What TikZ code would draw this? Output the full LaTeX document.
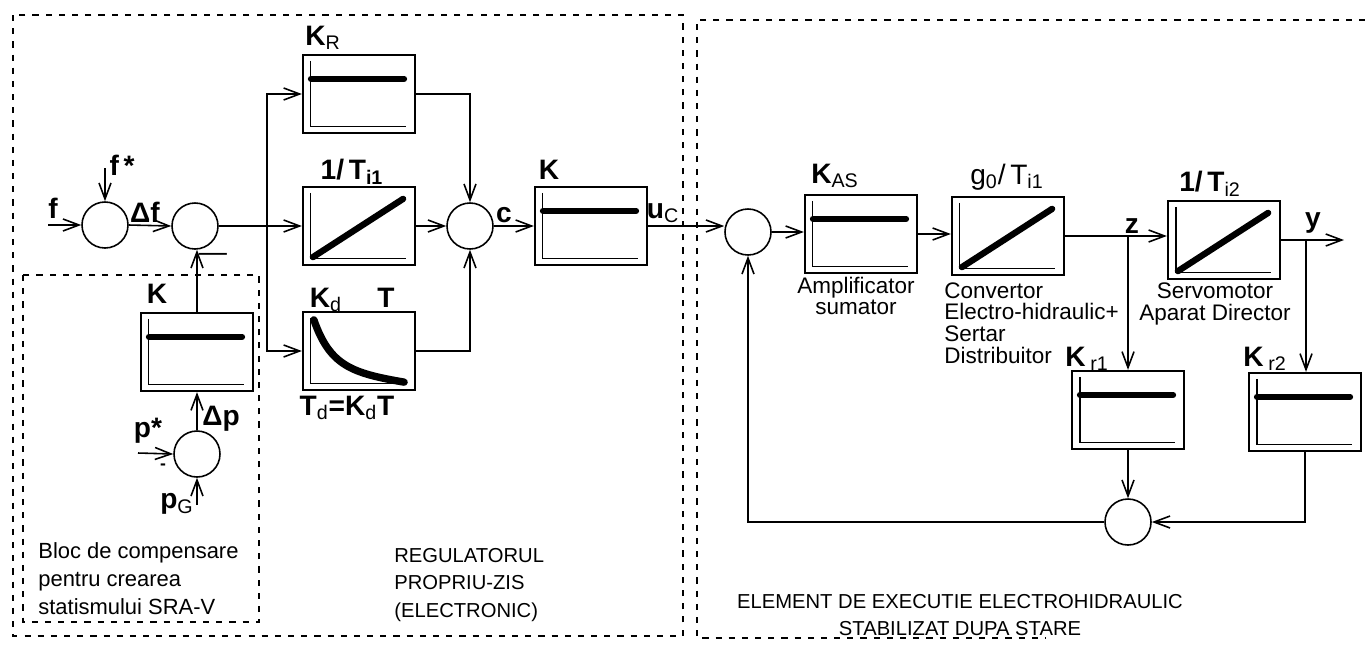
\documentclass[tikz,border=0pt]{standalone}
\usepackage{fontspec}
\setmainfont{Liberation Sans}
\usetikzlibrary{arrows.meta,calc}
\newcommand{\lsub}[1]{\textsubscript{\mdseries #1}}

\begin{document}
\begin{tikzpicture}[x=0.02cm, y=-0.02cm,
    >={Straight Barb[length=3.2mm,width=2.4mm]},
    sum/.style={circle, draw, line width=0.9pt, minimum size=9.2mm, inner sep=0pt},
    blk/.style={draw, line width=1.3pt, minimum width=2.24cm, minimum height=1.56cm, inner sep=0pt},
    lbl/.style={font=\fontsize{16}{18}\selectfont\bfseries, inner sep=1pt},
    txt/.style={font=\fontsize{12.8}{12.3}\selectfont, align=left, inner sep=0pt},
    captxt/.style={font=\fontsize{11.5}{15.4}\selectfont, align=left, inner sep=0pt},
    grp/.style={dash pattern=on 3.5pt off 4pt, line width=0.8pt},
    sig/.style={line width=0.9pt}]
    \useasboundingbox (0,0) rectangle (1365,647);

    % dashed groups
    \draw[grp] (13,15) rectangle (683,636);
    \draw[grp] (23,275) rectangle (259,622);
    \draw[grp] (1365,20) -- (697,20) -- (697,638) -- (1045,638);

    % summing points
    \node[sum] (s1) at (105,225) {};
    \node[sum] (s2) at (195,226) {};
    \node[sum] (sc) at (470,226) {};
    \node[sum] (sp) at (197,454) {};
    \node[sum] (su) at (748,232) {};
    \node[sum] (sr) at (1128,522) {};

    % blocks
    \node[blk] (kr) at (359,94) {};
    \node[blk] (ti) at (359,226) {};
    \node[blk] (kd) at (359,351) {};
    \node[blk] (kk) at (591,226) {};
    \node[blk] (kc) at (197,352) {};
    \node[blk] (kas) at (861,234) {};
    \node[blk] (gt) at (1008,236) {};
    \node[blk] (t2) at (1224,240) {};
    \node[blk] (r1) at (1128,410) {};
    \node[blk] (r2) at (1305,412) {};

    % characteristics inside the blocks
    \foreach \b in {kr,ti,kd,kk,kc,kas,gt,t2,r1,r2}
        \draw[line width=0.7pt] ($(\b.north west)+(9,7)$) |- ($(\b.south east)+(-10,-8)$);
    \foreach \b in {kr,kk,kc,kas,r1,r2}
        \draw[line width=3.4pt, line cap=round] ($(\b.north west)+(9,25)$) -- ($(\b.north east)+(-12,25)$);
    \foreach \b in {ti,gt,t2}
        \draw[line width=3.6pt, line cap=round] ($(\b.south west)+(11,-9)$) -- ($(\b.north east)+(-13,13)$);
    \draw[line width=4.2pt, line cap=round] ($(kd.north west)+(12,9)$)
        .. controls ($(kd.north west)+(28,55)$) and ($(kd.south west)+(50,-18)$) .. ($(kd.south east)+(-12,-9)$);

    % regulator signals
    \coordinate (fin) at (48,225);
    \coordinate (fst) at (105,168);
    \coordinate (br) at (267,226);
    \draw[sig,->] (fin) -- (s1.west);
    \draw[sig,->] (fst) -- (s1.north);
    \draw[sig,->] (s1.east) -- (s2.west);
    \draw[sig,->] (s2.east) -- (ti.west);
    \draw[sig,->] (br) |- (kr.west);
    \draw[sig,->] (br) |- (kd.west);
    \draw[sig,->] (kr.east) -| (sc.north);
    \draw[sig,->] (ti.east) -- (sc.west);
    \draw[sig,->] (kd.east) -| (sc.south);
    \draw[sig,->] (sc.east) -- (kk.west);
    \draw[sig,->] (kk.east) -- (kk.east -| su.west);

    % compensation block
    \coordinate (pin) at (138,453);
    \coordinate (pg) at (197,505);
    \draw[sig,->] (kc.north) -- (kc.north |- s2.south);
    \draw[sig,->] (sp.north) -- (kc.south);
    \draw[sig,->] (pin) -- (sp.west);
    \draw[sig,->] (pg) -- (sp.south);

    % execution element
    \coordinate (bz) at (1128,236);
    \coordinate (by) at (1306,240);
    \coordinate (yout) at (1344,240);
    \draw[sig,->] (su.east) -- (su.east -| kas.west);
    \draw[sig,->] (kas.east) -- (kas.east -| gt.west);
    \draw[sig,->] (gt.east) -- (gt.east -| t2.west);
    \draw[sig,->] (t2.east) -- (yout);
    \draw[sig,->] (bz) -- (r1.north);
    \draw[sig,->] (by) -- (by |- r2.north);
    \draw[sig,->] (r1.south) -- (sr.north);
    \draw[sig,->] (r2.south) |- (sr.east);
    \draw[sig,->] (sr.west) -| (su.south);

    % labels
    \node[lbl] at (53,208) {f};
    \node[lbl] at (122,165) {f\,*};
    \node[lbl] at (145,212) {Δf};
    \node[lbl] at (213,257) {\mdseries —};
    \node[lbl] at (157,294) {K};
    \node[lbl] at (221,419) {Δp};
    \node[lbl] at (148,431) {p*};
    \node[font=\bfseries] at (163,467) {-};
    \node[lbl] at (177,504) {p\lsub{G}};
    \node[lbl] at (323,38) {K\lsub{R}};
    \node[lbl] at (352,172) {1/\,T\textsubscript{i1}};
    \node[lbl] at (326,300) {K\lsub{d}};
    \node[lbl] at (386,298) {T};
    \node[lbl] at (347,408) {T\lsub{d}=K\lsub{d}T};
    \node[lbl] at (504,215) {c};
    \node[lbl] at (549,170) {K};
    \node[lbl] at (663,213) {u\lsub{C}};
    \node[lbl] at (835,176) {K\lsub{AS}};
    \node[lbl] at (1007,177) {\mdseries g\textsubscript{0}/\,T\textsubscript{i1}};
    \node[lbl] at (1210,184) {1/\,T\lsub{i2}};
    \node[lbl] at (1132,226) {z};
    \node[lbl] at (1313,223) {y};
    \node[lbl] at (1087,359) {K\,\lsub{r1}};
    \node[lbl] at (1265,359) {K\,\lsub{r2}};

    % descriptions
    \node[txt, align=center] at (856,296) {Amplificator\\sumator};
    \node[txt, anchor=west] at (944,323) {Convertor\\Electro-hidraulic+\\Sertar\\Distribuitor};
    \node[txt, align=center] at (1215,304) {Servomotor\\Aparat Director};
    \node[captxt, align=center] at (960,615) {ELEMENT DE EXECUTIE ELECTROHIDRAULIC\\STABILIZAT DUPA STARE};
    \node[captxt, anchor=west] at (394,585) {REGULATORUL\\PROPRIU-ZIS\\(ELECTRONIC)};
    \node[txt, anchor=west, font=\fontsize{12.5}{16}\selectfont] at (38,579) {Bloc de compensare\\pentru crearea\\statismului SRA-V};
\end{tikzpicture}
\end{document}
